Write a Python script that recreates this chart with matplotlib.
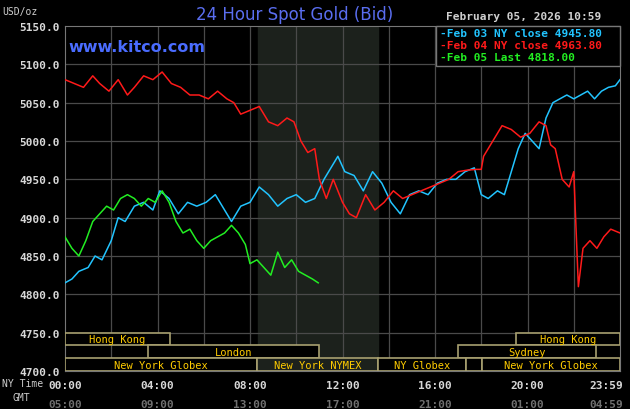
import matplotlib.pyplot as plt
from matplotlib.patches import Rectangle

# hours since 00:00 NY time, prices in USD/oz
feb03_t = [0, 0.3, 0.6, 1.0, 1.3, 1.6, 2.0, 2.3, 2.6, 3.0, 3.4, 3.8, 4.1, 4.5, 4.9, 5.3, 5.7, 6.1,
           6.5, 6.9, 7.2, 7.6, 8.0, 8.4, 8.8, 9.2, 9.6, 10.0, 10.4, 10.8, 11.2, 11.5, 11.8, 12.1,
           12.5, 12.9, 13.3, 13.7, 14.1, 14.5, 14.9, 15.3, 15.7, 16.1, 16.5, 16.9, 17.3, 17.7,
           18.0, 18.3, 18.7, 19.0, 19.3, 19.6, 19.9, 20.2, 20.5, 20.8, 21.1, 21.4, 21.7, 22.0,
           22.3, 22.6, 22.9, 23.2, 23.5, 23.8, 24.0]
feb03_v = [4815, 4820, 4830, 4835, 4850, 4845, 4870, 4900, 4895, 4915, 4920, 4910, 4935, 4925,
           4905, 4920, 4915, 4920, 4930, 4910, 4895, 4915, 4920, 4940, 4930, 4915, 4925, 4930,
           4920, 4925, 4950, 4965, 4980, 4960, 4955, 4935, 4960, 4945, 4920, 4905, 4930, 4935,
           4930, 4945, 4950, 4950, 4960, 4965, 4930, 4925, 4935, 4930, 4960, 4990, 5010, 5000,
           4990, 5030, 5050, 5055, 5060, 5055, 5060, 5065, 5055, 5065, 5070, 5072, 5080]

feb04_t = [0, 0.4, 0.8, 1.2, 1.5, 1.9, 2.3, 2.7, 3.0, 3.4, 3.8, 4.2, 4.6, 5.0, 5.4, 5.8, 6.2,
           6.6, 7.0, 7.3, 7.6, 8.0, 8.4, 8.8, 9.2, 9.6, 9.9, 10.2, 10.5, 10.8, 11.0, 11.3, 11.6,
           12.0, 12.3, 12.6, 13.0, 13.4, 13.8, 14.2, 14.6, 15.0, 15.4, 15.8, 16.2, 16.6, 17.0,
           17.4, 17.8, 18.0, 18.1, 18.5, 18.9, 19.3, 19.7, 20.1, 20.5, 20.8, 21.0, 21.2, 21.5,
           21.8, 22.0, 22.2, 22.4, 22.7, 23.0, 23.3, 23.6, 24.0]
feb04_v = [5080, 5075, 5070, 5085, 5075, 5065, 5080, 5060, 5070, 5085, 5080, 5090, 5075, 5070,
           5060, 5060, 5055, 5065, 5055, 5050, 5035, 5040, 5045, 5025, 5020, 5030, 5025, 5000,
           4985, 4990, 4950, 4925, 4950, 4920, 4905, 4900, 4930, 4910, 4920, 4935, 4925, 4930,
           4935, 4940, 4945, 4950, 4960, 4962, 4963, 4963, 4980, 5000, 5020, 5015, 5005, 5010,
           5025, 5020, 4995, 4990, 4950, 4940, 4960, 4810, 4860, 4870, 4860, 4875, 4885, 4880]

feb05_t = [0, 0.3, 0.6, 0.9, 1.2, 1.5, 1.8, 2.1, 2.4, 2.7, 3.0, 3.3, 3.6, 3.9, 4.2, 4.5, 4.8,
           5.1, 5.4, 5.7, 6.0, 6.3, 6.6, 6.9, 7.2, 7.5, 7.8, 8.0, 8.3, 8.6, 8.9, 9.2, 9.5, 9.8,
           10.1, 10.4, 10.7, 10.95]
feb05_v = [4875, 4860, 4850, 4870, 4895, 4905, 4915, 4910, 4925, 4930, 4925, 4915, 4925, 4920,
           4935, 4920, 4895, 4880, 4885, 4870, 4860, 4870, 4875, 4880, 4890, 4880, 4865, 4840,
           4845, 4835, 4825, 4855, 4835, 4845, 4830, 4825, 4820, 4815]

y_ticks = [4700, 4750, 4800, 4850, 4900, 4950, 5000, 5050, 5100, 5150]
x_ticks = [0, 4, 8, 12, 16, 20, 23.98]
ny_labels = ['00:00', '04:00', '08:00', '12:00', '16:00', '20:00', '23:59']
gmt_labels = ['05:00', '09:00', '13:00', '17:00', '21:00', '01:00', '04:59']

# (name, start, end, row) rows: 0 top, 2 bottom
sessions = [('Hong Kong', 0, 4.55, 0), ('Hong Kong', 19.5, 24, 0),
            ('London', 3.57, 11.0, 1), ('Sydney', 17.0, 22.96, 1),
            ('New York Globex', 0, 8.3, 2), ('New York NYMEX', 8.3, 13.55, 2),
            ('NY Globex', 13.55, 17.36, 2), ('', 17.36, 18.05, 2),
            ('New York Globex', 18.05, 24, 2)]

mono = 'DejaVu Sans Mono'
fig = plt.figure(figsize=(6.3, 4.1), dpi=100, facecolor='black')
ax = fig.add_axes([65/630, 38/410, 555/630, 345/410], facecolor='black')
ax.set_xlim(0, 24)
ax.set_ylim(4700, 5150)

ax.axvspan(8.33, 13.55, color='#1c211c', zorder=0)
for x in range(2, 24, 2):
    ax.axvline(x, color='#4a4a4a', lw=0.9, zorder=1)
for y in y_ticks[1:-1]:
    ax.axhline(y, color='#4a4a4a', lw=0.9, zorder=1)

ax.plot(feb03_t, feb03_v, color='#22c4ff', lw=1.1, zorder=3)
ax.plot(feb04_t, feb04_v, color='#ff1a1a', lw=1.1, zorder=3)
ax.plot(feb05_t, feb05_v, color='#22ee22', lw=1.1, zorder=3)

row_h = 50 / 3
for name, x0, x1, row in sessions:
    y0 = 4750 - (row + 1) * row_h
    ax.add_patch(Rectangle((x0, y0), x1 - x0, row_h, facecolor='black' if name != 'New York NYMEX' else '#1c211c',
                           edgecolor='#a8a070', lw=1.2, zorder=4))
    if name:
        ax.text((x0 + x1) / 2, y0 + row_h / 2, name, color='#ffcc00', fontsize=7.5, family=mono,
                ha='center', va='center', zorder=5)

for s in ax.spines.values():
    s.set_color('#777777')
ax.set_xticks([])
ax.set_yticks(y_ticks)
ax.set_yticklabels([f'{v:.1f}' for v in y_ticks], color='#d8d8d8', family=mono,
                   fontsize=8, fontweight='bold')
ax.tick_params(axis='y', length=0, pad=4)

for i, (x, a, b) in enumerate(zip(x_ticks, ny_labels, gmt_labels)):
    ha = 'right' if i == len(x_ticks) - 1 else 'center'
    xx = 24.15 if ha == 'right' else x
    ax.text(xx, -0.04, a, transform=ax.get_xaxis_transform(), ha=ha, va='center',
            color='#d8d8d8', family=mono, fontsize=8, fontweight='bold')
    ax.text(xx, -0.095, b, transform=ax.get_xaxis_transform(), ha=ha, va='center',
            color='#707070', family=mono, fontsize=8, fontweight='bold')
fig.text(2/630, 1 - 384/410, 'NY Time', color='#cfcfcf', family=mono, fontsize=7, va='center')
fig.text(12/630, 1 - 398/410, 'GMT', color='#cfcfcf', family=mono, fontsize=7, va='center')

fig.text(2/630, 1 - 12/410, 'USD/oz', color='#cfcfcf', family=mono, fontsize=7, va='center')
fig.text(295/630, 1 - 15/410, '24 Hour Spot Gold (Bid)', color='#5a6ef0', fontsize=12,
         ha='center', va='center')
fig.text(68/630, 1 - 48/410, 'www.kitco.com', color='#4a6cff', fontsize=11.5,
         fontweight='bold', va='center')
fig.text(524/630, 1 - 17/410, 'February 05, 2026 10:59', color='#d0d0d0', family=mono,
         fontsize=8, fontweight='bold', ha='center', va='center')

legend_items = [('Feb 03 NY close 4945.80', '#22c4ff'), ('Feb 04 NY close 4963.80', '#ff1a1a'),
                ('Feb 05 Last 4818.00', '#22ee22')]
fig.patches.append(Rectangle((436/630, 1 - 67/410), 184/630, 40/410, transform=fig.transFigure,
                             facecolor='black', edgecolor='#777777', lw=1, zorder=5))
for i, (txt, c) in enumerate(legend_items):
    fig.text(440/630, 1 - (34 + 12 * i)/410, '-' + txt, color=c, family=mono, fontsize=8,
             fontweight='bold', va='center', zorder=6)

fig.savefig('out.png', dpi=100, facecolor='black')
